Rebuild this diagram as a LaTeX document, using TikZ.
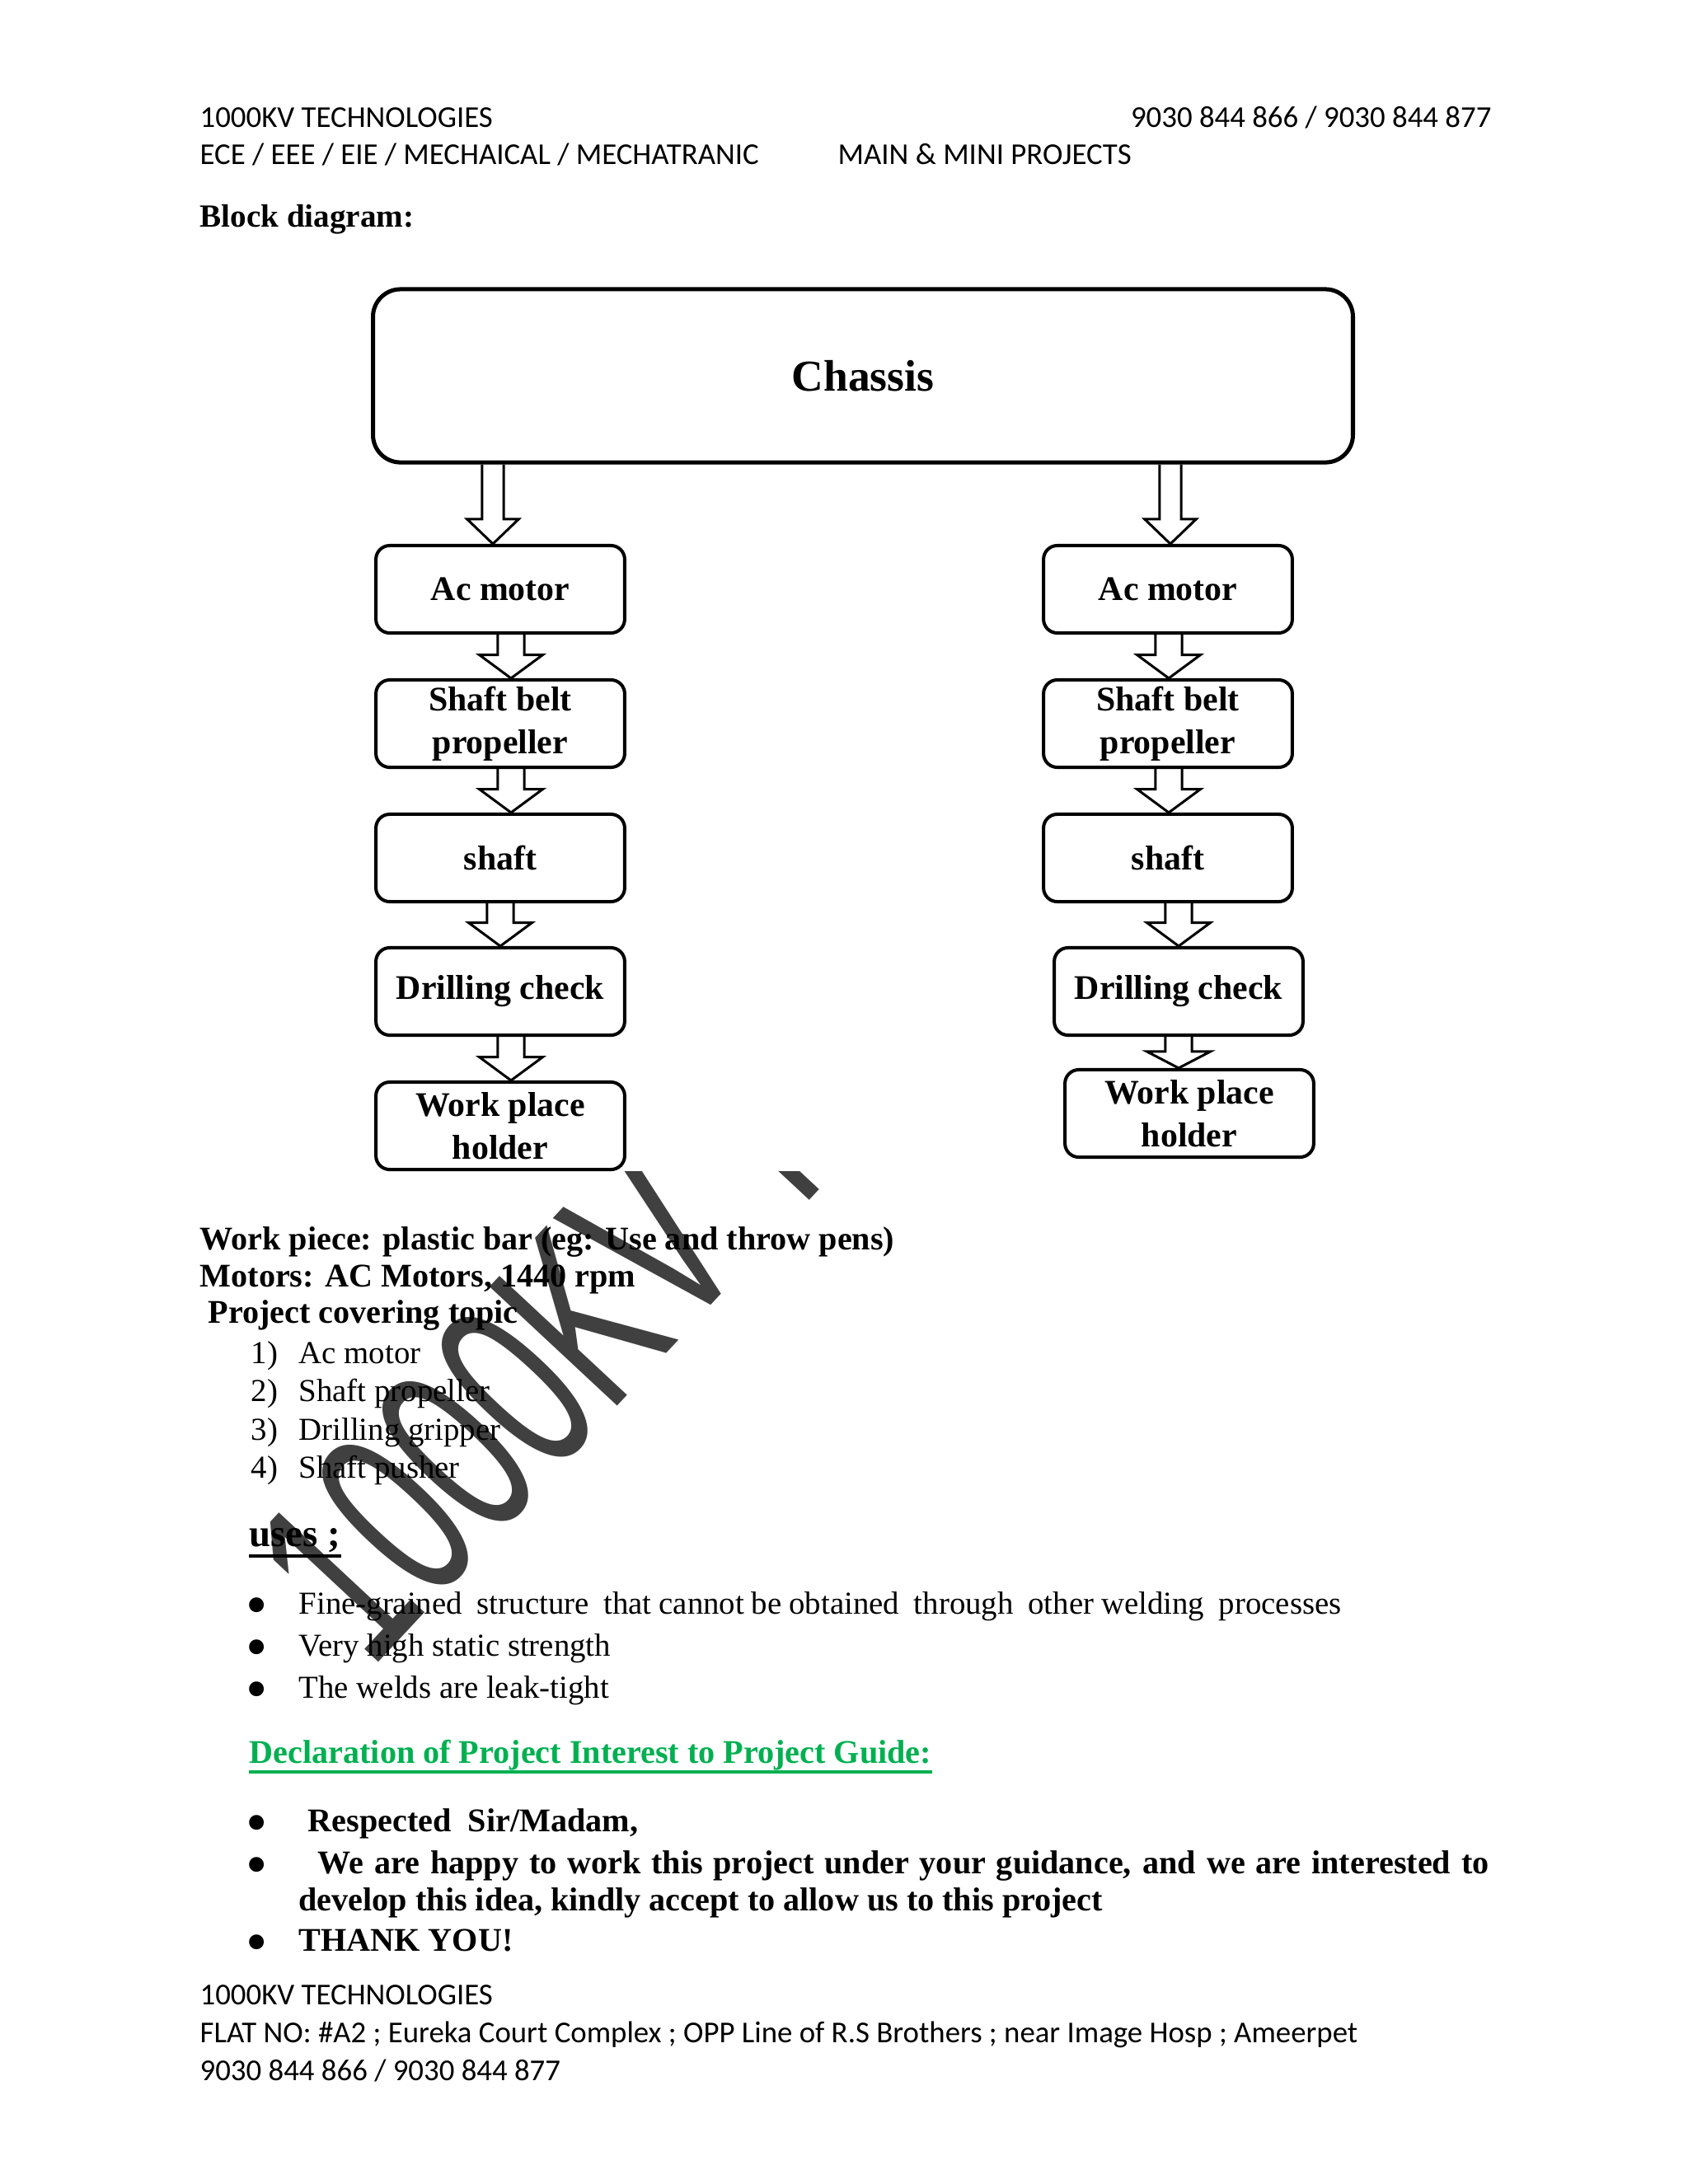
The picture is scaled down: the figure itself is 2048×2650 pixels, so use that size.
\documentclass[tikz,border=0pt]{standalone}
\usepackage{fontspec}
\setmainfont{Liberation Serif}
\newfontfamily\calfont{Carlito}
\newfontfamily\markfont{Liberation Sans}
\usepackage{graphicx}
\usepackage{tikz}
\usetikzlibrary{calc}
\definecolor{wmgray}{HTML}{404040}
\definecolor{guide}{HTML}{00B050}
\tikzset{
  blk/.style   ={draw, rounded corners=5pt, line width=1.2pt, align=center, inner sep=0pt,
                 font=\fontsize{12.5}{15.5}\selectfont\bfseries,
                 minimum width=90.2pt, minimum height=31.7pt},
  chas/.style  ={blk, rounded corners=10pt, line width=1.5pt,
                 minimum width=355.3pt, minimum height=62.8pt,
                 font=\fontsize{16}{19}\selectfont\bfseries},
  harrow/.style={draw, line width=0.9pt, line join=miter},
  hdr/.style   ={anchor=base west, inner sep=0pt, font=\calfont\fontsize{11}{13}\selectfont},
  txt/.style   ={anchor=base west, inner sep=0pt, font=\fontsize{11.6}{14}\selectfont},
  bld/.style   ={anchor=base west, inner sep=0pt, font=\fontsize{12}{14}\selectfont\bfseries},
  dot/.style   ={anchor=base, inner sep=0pt, font=\fontsize{14}{14}\selectfont},
  wmark/.style ={anchor=base west, inner sep=0pt, rotate=47, text=wmgray,
                 font=\markfont\fontsize{92}{92}\selectfont},
  uline/.style ={line width=1pt},
}
% hollow block arrow: from, to, x (px), half shaft (pt), head length (pt)
\newcommand{\hollow}[5]{%
  \path[harrow] let \p1=(#1.south), \p2=(#2.north), \p3=(#3,0) in
    (\x3-#4,\y1) -- (\x3-#4,\y2+#5) -- (\x3-2.4*#4,\y2+#5) -- (\x3,\y2)
    -- (\x3+2.4*#4,\y2+#5) -- (\x3+#4,\y2+#5) -- (\x3+#4,\y1);
}
\newcommand{\bigdot}{\raisebox{-4.2pt}{\scalebox{1.6}{•}}}

\begin{document}
\begin{tikzpicture}[x=0.29883pt, y=-0.29883pt]
  \useasboundingbox (0,0) rectangle (2048,2650);

  % watermark, cut by the diagram picture
  \begin{scope}
    \clip (0,1421) rectangle (2048,2650);
    \node[wmark] (wmk) at (449,2028) {\scalebox{0.62}[1]{1000KV TECHNOLOGIES}};
  \end{scope}

  % header
  \node[hdr] (h1) at (242,154) {1000KV TECHNOLOGIES};
  \node[hdr, anchor=base east] (h2) at (1810,154) {9030 844 866 / 9030 844 877};
  \node[hdr] (h3) at (242,199) {ECE / EEE / EIE / MECHAICAL / MECHATRANIC};
  \node[hdr] (h4) at (1016,199) {MAIN \& MINI PROJECTS};
  \node[bld, font=\fontsize{11.7}{14}\selectfont\bfseries] (bd) at (242,275) {Block diagram:};

  % block diagram
  \node[chas] (chassis) at (1047,456) {Chassis};
  \node[blk] (lac) at (607,715)  {Ac motor};
  \node[blk] (lsb) at (607,878)  {Shaft belt\\propeller};
  \node[blk] (lsh) at (607,1041) {shaft};
  \node[blk] (ldr) at (607,1203) {Drilling check};
  \node[blk] (lwp) at (607,1366) {Work place\\holder};
  \node[blk] (rac) at (1417,715)  {Ac motor};
  \node[blk] (rsb) at (1417,878)  {Shaft belt\\propeller};
  \node[blk] (rsh) at (1417,1041) {shaft};
  \node[blk] (rdr) at (1430,1203) {Drilling check};
  \node[blk] (rwp) at (1443,1351) {Work place\\holder};

  \hollow{chassis}{lac}{598}{3.9pt}{9pt}
  \hollow{chassis}{rac}{1420}{3.9pt}{9pt}
  \hollow{lac}{lsb}{620}{4.8pt}{8.5pt}
  \hollow{lsb}{lsh}{620}{4.8pt}{8.5pt}
  \hollow{lsh}{ldr}{607}{4.8pt}{8.5pt}
  \hollow{ldr}{lwp}{620}{4.8pt}{8.5pt}
  \hollow{rac}{rsb}{1418}{4.8pt}{8.5pt}
  \hollow{rsb}{rsh}{1418}{4.8pt}{8.5pt}
  \hollow{rsh}{rdr}{1430}{4.8pt}{8.5pt}
  \hollow{rdr}{rwp}{1430}{4.8pt}{6pt}

  % details
  \node[bld] (wp) at (242,1516) {Work piece: plastic bar (eg: Use and throw pens)};
  \node[bld] (mo) at (242,1561) {Motors: AC Motors, 1440 rpm};
  \node[bld] (pc) at (252,1605) {Project covering topic};
  \node[txt] (n1) at (304,1654) {1)};
  \node[txt] (t1) at (362,1654) {Ac motor};
  \node[txt] (n2) at (304,1700) {2)};
  \node[txt] (t2) at (362,1700) {Shaft propeller};
  \node[txt] (n3) at (304,1747) {3)};
  \node[txt] (t3) at (362,1747) {Drilling gripper};
  \node[txt] (n4) at (304,1793) {4)};
  \node[txt] (t4) at (362,1793) {Shaft pusher};

  \node[bld, font=\fontsize{14}{16}\selectfont\bfseries] (uses) at (302,1876) {uses ;};
  \draw[uline] ([yshift=-3.6pt]uses.base west) -- ([yshift=-3.6pt]uses.base east);
  \node[dot] (b1) at (312,1958) {\bigdot};
  \node[txt] (u1) at (362,1958) {\makebox[378pt][s]{Fine-grained\ \ structure\ \ that cannot be obtained\ \ through\ \ other welding\ \ processes}};
  \node[dot] (b2) at (312,2009) {\bigdot};
  \node[txt] (u2) at (362,2009) {Very high static strength};
  \node[dot] (b3) at (312,2060) {\bigdot};
  \node[txt] (u3) at (362,2060) {The welds are leak-tight};

  \node[bld, text=guide] (decl) at (302,2139) {Declaration of Project Interest to Project Guide:};
  \draw[uline, guide, line width=1.2pt] ([yshift=-3.3pt]decl.base west) -- ([yshift=-3.3pt]decl.base east);
  \node[dot] (b4) at (312,2222) {\bigdot};
  \node[bld] (r1) at (373,2222) {Respected\ \ Sir/Madam,};
  \node[dot] (b5) at (312,2273) {\bigdot};
  \node[bld] (r2) at (385,2273) {\makebox[424.6pt][s]{We are happy to work this project under your guidance, and we are interested to}};
  \node[bld] (r3) at (362,2318) {develop this idea, kindly accept to allow us to this project};
  \node[dot] (b6) at (312,2367) {\bigdot};
  \node[bld] (r4) at (362,2367) {THANK YOU!};

  % footer
  \node[hdr] (f1) at (242,2432) {1000KV TECHNOLOGIES};
  \node[hdr] (f2) at (242,2478) {FLAT NO: \#A2 ; Eureka Court Complex ; OPP Line of R.S Brothers ; near Image Hosp ; Ameerpet};
  \node[hdr] (f3) at (242,2524) {9030 844 866 / 9030 844 877};
\end{tikzpicture}
\end{document}
